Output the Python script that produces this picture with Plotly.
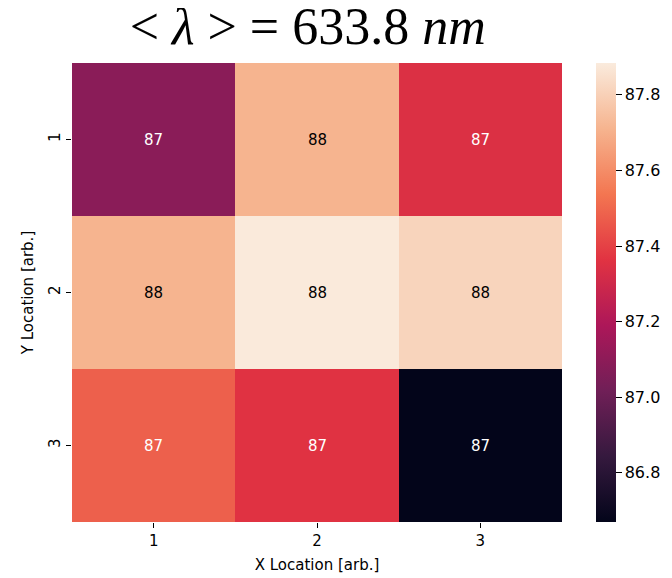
import plotly.graph_objects as go

x_labels = [1, 2, 3]
y_labels = [1, 2, 3]
values = [
    [87.09, 87.71, 87.345],
    [87.71, 87.88, 87.81],
    [87.48, 87.36, 86.67],
]
text_colors = [
    ["white", "black", "white"],
    ["black", "black", "black"],
    ["white", "white", "white"],
]
zmin, zmax = 86.67, 87.884

rocket = [
    [0.0, "#03051a"],
    [1/7, "#35193e"],
    [2/7, "#701f57"],
    [3/7, "#ad1759"],
    [4/7, "#e13342"],
    [5/7, "#f37651"],
    [6/7, "#f6b48f"],
    [1.0, "#faebdd"],
]

fig = go.Figure()
fig.add_trace(go.Heatmap(
    z=values, x=x_labels, y=y_labels,
    colorscale=rocket, zmin=zmin, zmax=zmax,
    xgap=0, ygap=0,
    colorbar=dict(
        x=1.069, xanchor="left", xpad=0, ypad=0,
        thickness=20, len=1.0, lenmode="fraction", y=0.5, yanchor="middle",
        outlinewidth=0, ticks="outside", ticklen=6, tickcolor="black",
        tickvals=[86.8, 87.0, 87.2, 87.4, 87.6, 87.8],
        ticktext=["86.8", "87.0", "87.2", "87.4", "87.6", "87.8"],
        tickfont=dict(family="DejaVu Sans", size=16, color="black"),
    ),
    showscale=True,
))

for i, yv in enumerate(y_labels):
    for j, xv in enumerate(x_labels):
        fig.add_annotation(
            x=xv, y=yv, text=str(int(round(values[i][j]))),
            showarrow=False,
            font=dict(family="DejaVu Sans", size=15, color=text_colors[i][j]),
        )

fig.update_layout(
    width=672, height=578,
    margin=dict(l=64, r=118, t=55, b=64),
    paper_bgcolor="white", plot_bgcolor="white",
    title=dict(
        text="&lt;&nbsp;<i>λ</i>&nbsp;&gt;&nbsp;=&nbsp;633.8&nbsp;<i>nm</i>",
        x=0.446, xref="container", xanchor="center",
        y=1 - 18/578, yref="container", yanchor="middle",
        font=dict(family="Liberation Serif", size=52, color="black"),
    ),
    xaxis=dict(
        tickvals=x_labels, ticktext=[str(v) for v in x_labels],
        ticks="outside", ticklen=5, tickcolor="black",
        showgrid=False, zeroline=False, showline=False,
        tickfont=dict(family="DejaVu Sans", size=15, color="black"),
        title=dict(text="X Location [arb.]", standoff=10,
                   font=dict(family="DejaVu Sans", size=15, color="black")),
    ),
    yaxis=dict(
        tickvals=y_labels, ticktext=[str(v) for v in y_labels],
        autorange="reversed", tickangle=-90,
        ticks="outside", ticklen=5, tickcolor="black",
        showgrid=False, zeroline=False, showline=False,
        tickfont=dict(family="DejaVu Sans", size=15, color="black"),
        title=dict(text="Y Location [arb.]", standoff=8,
                   font=dict(family="DejaVu Sans", size=15, color="black")),
    ),
)

fig.write_html("out.html")
